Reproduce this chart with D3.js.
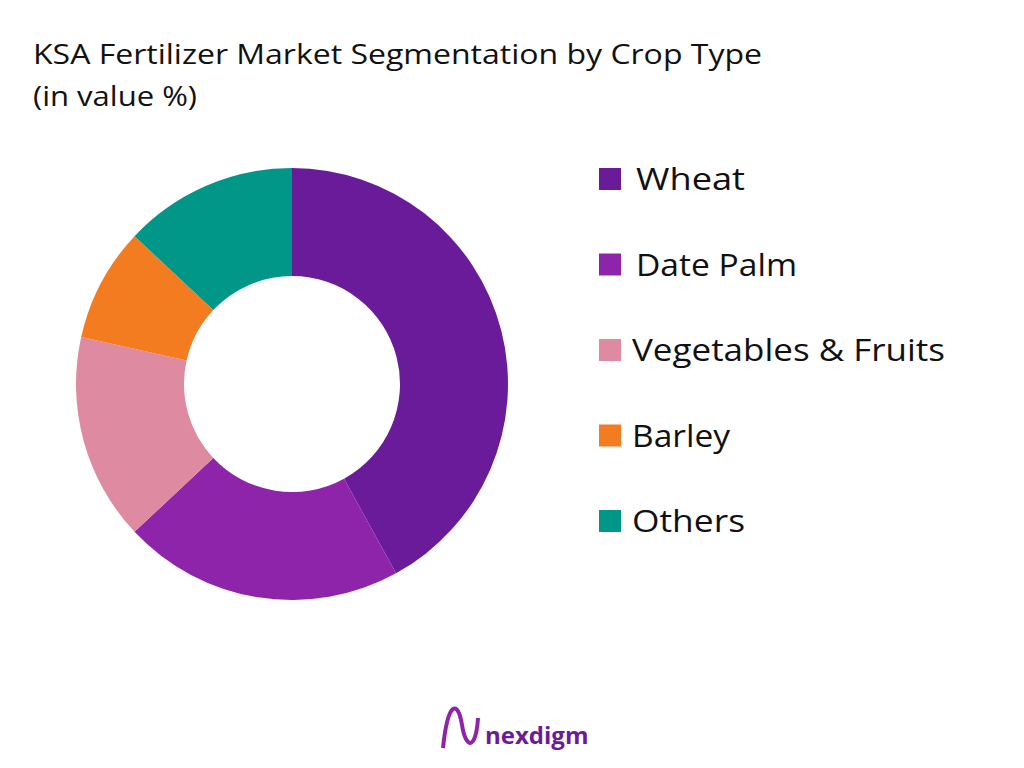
<!DOCTYPE html>
<html><head><meta charset="utf-8">
<script src="https://cdn.jsdelivr.net/npm/d3@7"></script>
<style>body{margin:0;background:#fff;}</style></head>
<body><svg id="c" width="1024" height="768"></svg>
<script>
const categories = ["Wheat","Date Palm","Vegetables & Fruits","Barley","Others"];
const values = [42,21,15.5,8.5,13];
const colors = ["#6a1b9a","#8e24aa","#de8aa0","#f47c20","#009688"];
const labelWidths = [109,161,313,98,113];
const svg = d3.select("#c");
const font = "'Open Sans', sans-serif";
svg.append("text").attr("x",33).attr("y",64).attr("font-family",font).attr("font-size",27).attr("fill","#111")
  .attr("textLength",729).attr("lengthAdjust","spacingAndGlyphs").text("KSA Fertilizer Market Segmentation by Crop Type");
svg.append("text").attr("x",33).attr("y",106).attr("font-family",font).attr("font-size",27).attr("fill","#111")
  .attr("textLength",164).attr("lengthAdjust","spacingAndGlyphs").text("(in value %)");
const pie = d3.pie().sort(null).value(d=>d)(values);
const arc = d3.arc().innerRadius(108).outerRadius(216);
const g = svg.append("g").attr("transform","translate(292,384)");
g.selectAll("path").data(pie).join("path").attr("d",arc).attr("fill",(d,i)=>colors[i]);
const y = d3.scalePoint().domain(categories).range([179,521]);
const lg = svg.append("g");
categories.forEach((c,i)=>{
  lg.append("rect").attr("x",599).attr("y",y(c)-11).attr("width",22).attr("height",22).attr("fill",colors[i]);
  lg.append("text").attr("x",i<2?636:632).attr("y",y(c)+11).attr("font-family",font).attr("font-size",31).attr("fill","#111")
    .attr("textLength",labelWidths[i]).attr("lengthAdjust","spacingAndGlyphs").text(c);
});
svg.append("text").attr("x",485).attr("y",744).attr("font-family",font).attr("font-weight","bold").attr("font-size",24).attr("fill","#6a1b9a").text("nexdigm");
svg.append("path").attr("d","M443,748 C448,700 458,700 462,725 C466,750 476,750 478,718").attr("fill","none").attr("stroke","#8e24aa").attr("stroke-width",4);
</script></body></html>
